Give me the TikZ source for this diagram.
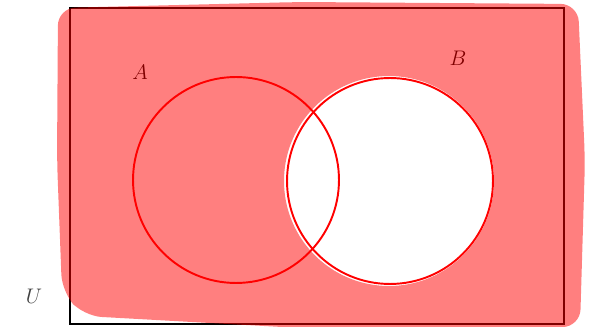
\documentclass[tikz,border=0pt]{standalone}
\usepackage{amsmath}
\usetikzlibrary{shapes,positioning}

\begin{document}
\begin{tikzpicture}[x=0.02cm, y=-0.02cm]

    \useasboundingbox (0,0) rectangle (589,327);

    % Draw the universe
    \draw[line width=1.6pt] (70,8) rectangle (564,324);

    % Set labels
    \node[font=\large] (labA) at (140,72) {$A$};
    \node[font=\large] (labB) at (458,58) {$B$};
    \node[font=\large, color=black!75] (labU) at (34,296) {$U$};

    % Shade the complement of B
    \fill[red, opacity=0.5, even odd rule, rounded corners=10pt]
      (58,8) -- (300,2) -- (578,4) -- (585,160) -- (580,327) -- (300,328) -- (84,316) -- (62,292) -- (57,160) -- cycle
      (389,181) circle[radius=105];

    % Draw the circles
    \node[circle, draw=red, line width=1.1pt, minimum size=4.12cm, inner sep=0pt] (A) at (236,180) {};
    \node[circle, draw=red, line width=1.1pt, minimum size=4.12cm, inner sep=0pt] (B) at (390,181) {};

\end{tikzpicture}
\end{document}
